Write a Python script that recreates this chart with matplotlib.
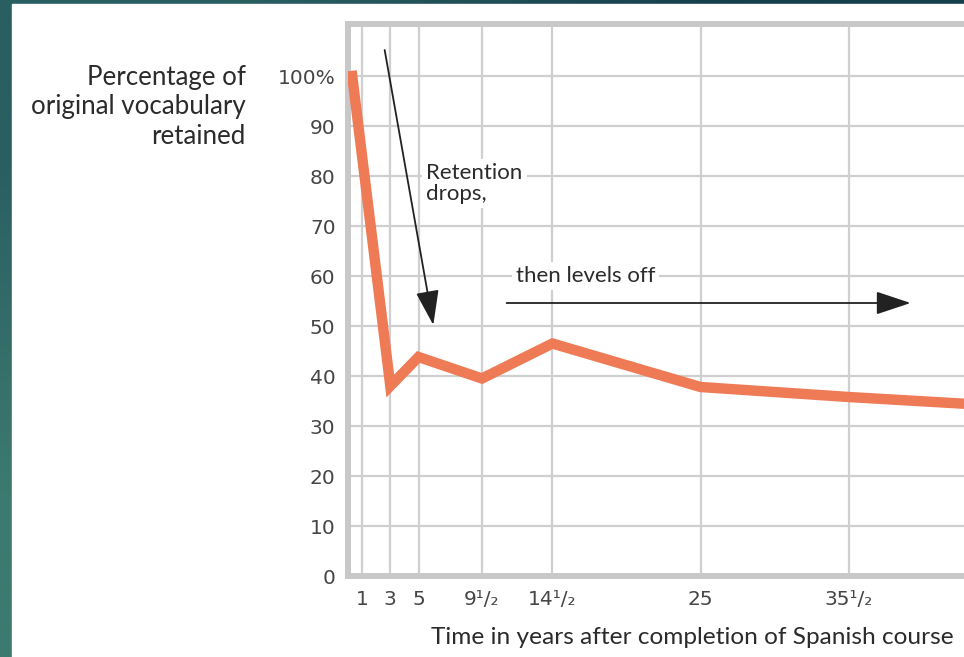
#Imports
import matplotlib
matplotlib.use('Agg')
import matplotlib.pyplot as plt
from matplotlib.patches import Rectangle
import numpy as np

#Data
years = [0.3, 3, 5, 9.5, 14.5, 25, 35.5, 49.5]
retained = [100, 38, 43.8, 39.5, 46.5, 37.8, 35.8, 33.5]
grid_years = [1, 3, 5, 9.5, 14.5, 25, 35.5]
year_labels = ['1', '3', '5', '9\u00b9/\u2082', '14\u00b9/\u2082', '25', '35\u00b9/\u2082']
pct_ticks = [0, 10, 20, 30, 40, 50, 60, 70, 80, 90, 100]
pct_labels = ['0', '10', '20', '30', '40', '50', '60', '70', '80', '90', '100%']

#Settings
plt.rcParams['font.family'] = ['Lato', 'DejaVu Sans']
W, H = 964, 657
txt = '#2b2b2b'
tickc = '#454545'
gridc = '#cfcfcf'

fig = plt.figure(figsize=(W / 100, H / 100), dpi=100)

#teal frame with a slight gradient, white panel on top
bg = fig.add_axes([0, 0, 1, 1])
corners = np.array([[[0x2a, 0x5f, 0x62], [0x16, 0x3f, 0x4c]],
                    [[0x3c, 0x7a, 0x70], [0x2a, 0x60, 0x60]]]) / 255.0
bg.imshow(corners, extent=[0, 1, 0, 1], aspect='auto', interpolation='bilinear')
bg.add_patch(Rectangle((12 / W, 0), 1, 1 - 4 / H, color='white', transform=bg.transAxes))
bg.set_xlim(0, 1)
bg.set_ylim(0, 1)
bg.axis('off')

#main axes
x0, x1 = 348, 964
y0, y1 = 576, 24
ax = fig.add_axes([x0 / W, 1 - y0 / H, (x1 - x0) / W, (y0 - y1) / H])
ax.set_facecolor('none')
ax.set_xlim(0, (x1 - x0) / 14.1)
ax.set_ylim(0, (y0 - y1) / 5.0)

for s in ['left', 'top', 'bottom']:
	ax.spines[s].set_color('#c8c8c8')
	ax.spines[s].set_linewidth(4.3)
ax.spines['right'].set_visible(False)

ax.set_xticks(grid_years)
ax.set_xticklabels(year_labels, family='DejaVu Sans')
ax.set_yticks(pct_ticks)
ax.set_yticklabels(pct_labels, family='DejaVu Sans')
ax.tick_params(axis='both', length=0, labelsize=14.5, labelcolor=tickc)
ax.tick_params(axis='y', pad=9)
ax.tick_params(axis='x', pad=10)
ax.grid(True, color=gridc, lw=1.6)
ax.set_axisbelow(True)

#plot
ax.plot(years, retained, color='#ef7a56', lw=7.5, solid_joinstyle='miter', zorder=3)

ax.annotate('', xy=(6.05, 50.2), xytext=(2.6, 105.2),
	arrowprops=dict(arrowstyle='-|>,head_length=0.9,head_width=0.3', color='#222222', lw=1.3,
	mutation_scale=24, shrinkA=0, shrinkB=0), zorder=4)
ax.annotate('', xy=(39.9, 54.6), xytext=(11.25, 54.6),
	arrowprops=dict(arrowstyle='-|>,head_length=0.9,head_width=0.3', color='#222222', lw=1.3,
	mutation_scale=24, shrinkA=0, shrinkB=0), zorder=4)

ax.text(5.55, 82.6, 'Retention\ndrops,', ha='left', va='top', fontsize=16, color=txt,
	linespacing=1.05, bbox=dict(fc='white', ec='none', pad=3), zorder=2)
ax.text(11.9, 60.0, 'then levels off', ha='left', va='center', fontsize=16, color=txt,
	bbox=dict(fc='white', ec='none', pad=3), zorder=2)

fig.text(246 / W, 1 - 65 / H, 'Percentage of\noriginal vocabulary\nretained', ha='right', va='top',
	multialignment='right', fontsize=18.6, color=txt, linespacing=1.22)
fig.text(431 / W, 1 - 637 / H, 'Time in years after completion of Spanish course', ha='left',
	va='center', fontsize=17.6, color=txt)

plt.savefig('out.png', dpi=100)
